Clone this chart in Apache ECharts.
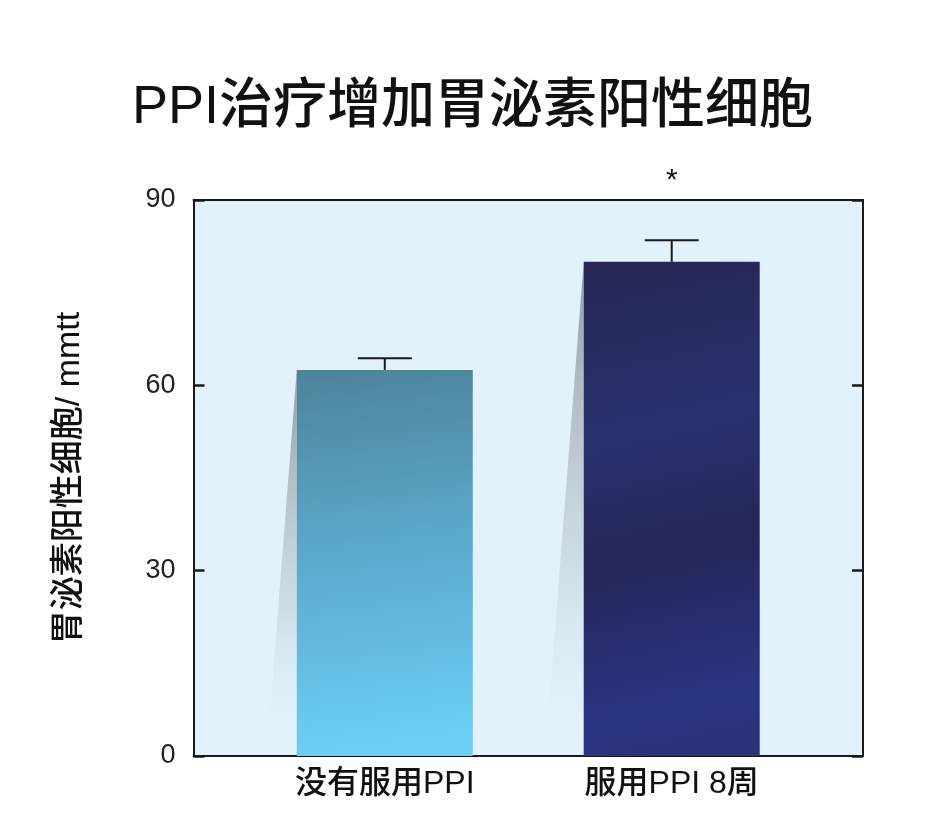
<!DOCTYPE html>
<html>
<head>
	<meta charset="UTF-8">
	<title>PPI治疗增加胃泌素阳性细胞</title>
	<script src="https://cdn.jsdelivr.net/npm/echarts@6/dist/echarts.min.js"></script>
	<style>
		html, body { margin: 0; padding: 0; background: #fff; }
		#main { width: 945px; height: 827px; }
	</style>
</head>
<body>
	<div id="main"></div>
	<script>
	// 数据
	var categories = ['没有服用PPI', '服用PPI 8周'];
	var positions = [2, 5];          // 横轴上柱子的位置 (0 ~ 7)
	var means = [62.5, 80];
	var errTops = [64.4, 83.5];
	var sigMarks = ['', '*'];
	var yTicks = [0, 30, 60, 90];

	var fontCJK = '"Liberation Sans", "Noto Sans CJK SC", sans-serif';
	var axisColor = '#1a1a1a';

	var barColors = [
		new echarts.graphic.LinearGradient(0, 0, 0.3, 1, [
			{ offset: 0, color: '#4c8399' },
			{ offset: 0.45, color: '#5aa7c9' },
			{ offset: 1, color: '#6cd0f6' }
		]),
		new echarts.graphic.LinearGradient(0, 0, 0.6, 1, [
			{ offset: 0, color: '#272654' },
			{ offset: 0.35, color: '#29326f' },
			{ offset: 0.6, color: '#262659' },
			{ offset: 0.9, color: '#2a3584' },
			{ offset: 1, color: '#2a327a' }
		])
	];

	var barData = [], pointData = [];
	for (var i = 0; i < categories.length; i++) {
		barData.push({
			value: [positions[i], means[i]],
			itemStyle: { color: barColors[i] }
		});
		pointData.push([positions[i], means[i], errTops[i], i]);
	}

	var barWidth = 176;

	// 柱子左侧的阴影
	function renderShadow(params, api) {
		var top = api.coord([api.value(0), api.value(1)]);
		var base = api.coord([api.value(0), 0]);
		var left = top[0] - barWidth / 2;
		var w = (base[1] - top[1]) * 0.078;
		return {
			type: 'polygon',
			shape: { points: [[left, top[1]], [left, base[1]], [left - w, base[1]]] },
			style: {
				fill: new echarts.graphic.LinearGradient(0, 0, 0, 1, [
					{ offset: 0, color: 'rgba(150,155,160,1)' },
					{ offset: 0.6, color: 'rgba(190,205,215,0.6)' },
					{ offset: 1, color: 'rgba(225,242,252,0)' }
				])
			}
		};
	}

	// 误差线 和 显著性标记
	function renderError(params, api) {
		var x = api.value(0);
		var low = api.coord([x, api.value(1)]);
		var high = api.coord([x, api.value(2)]);
		var idx = api.value(3);
		var topY = api.coord([x, 90])[1];
		var half = 27;
		var style = { stroke: axisColor, lineWidth: 2 };
		var children = [
			{ type: 'line', shape: { x1: low[0], y1: low[1], x2: high[0], y2: high[1] }, style: style },
			{ type: 'line', shape: { x1: high[0] - half, y1: high[1], x2: high[0] + half, y2: high[1] }, style: style }
		];
		if (sigMarks[idx]) {
			children.push({
				type: 'text',
				style: {
					text: sigMarks[idx], x: high[0], y: topY - 4,
					align: 'center', verticalAlign: 'bottom',
					font: '30px "Liberation Sans", sans-serif', fill: '#111'
				}
			});
		}
		return { type: 'group', children: children };
	}

	function sideAxis(pos) {
		return {
			type: 'value',
			min: 0, max: pos === 'top' || pos === 'bottom' ? 7 : 90,
			interval: pos === 'top' || pos === 'bottom' ? 1 : 30,
			position: pos,
			splitLine: { show: false },
			axisLine: { show: true, onZero: false, lineStyle: { color: axisColor, width: 2 } },
			axisTick: { show: false },
			axisLabel: { show: false }
		};
	}

	var myChart = echarts.init(document.getElementById('main'));

	var xBottom = sideAxis('bottom');
	xBottom.axisLabel = {
		show: true,
		customValues: positions,
		formatter: function (v) {
			var i = positions.indexOf(v);
			return i >= 0 ? categories[i] : '';
		},
		margin: 12,
		fontFamily: fontCJK, fontSize: 32, fontWeight: 500, color: '#111'
	};

	var yLeft = sideAxis('left');
	yLeft.name = '胃泌素阳性细胞/ mmtt';
	yLeft.nameLocation = 'middle';
	yLeft.nameRotate = 90;
	yLeft.nameGap = 107;
	yLeft.nameTextStyle = { fontFamily: fontCJK, fontSize: 34, fontWeight: 500, color: '#111' };
	yLeft.axisTick = { show: true, inside: true, length: 11, lineStyle: { color: axisColor, width: 2.5 } };
	yLeft.axisLabel = {
		show: true,
		customValues: yTicks,
		margin: 18,
		fontFamily: '"Liberation Sans", sans-serif',
		fontSize: 27, color: '#222'
	};

	var yRight = sideAxis('right');
	yRight.axisTick = { show: true, inside: true, length: 11, lineStyle: { color: axisColor, width: 2.5 } };

	var option = {
		backgroundColor: '#fff',
		animation: false,
		title: {
			text: 'PPI治疗增加胃泌素阳性细胞',
			left: 'center',
			top: 76,
			textStyle: { fontFamily: fontCJK, fontSize: 54, fontWeight: 500, color: '#111' }
		},
		grid: {
			left: 193.5, right: 82, top: 200, bottom: 71,
			show: true, backgroundColor: '#e1f2fc', borderWidth: 0
		},
		xAxis: [xBottom, sideAxis('top')],
		yAxis: [yLeft, yRight],
		series: [{
			type: 'custom',
			renderItem: renderShadow,
			data: pointData,
			z: 1,
			silent: true
		}, {
			type: 'bar',
			data: barData,
			barWidth: barWidth,
			z: 2
		}, {
			type: 'custom',
			renderItem: renderError,
			data: pointData,
			clip: false,
			z: 3
		}]
	};
	myChart.setOption(option);
	</script>
</body>
</html>
